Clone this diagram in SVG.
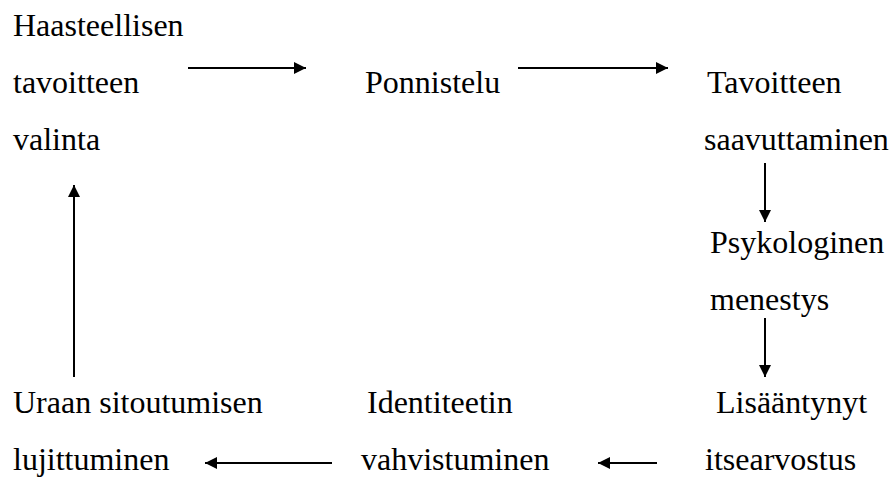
<svg xmlns="http://www.w3.org/2000/svg" width="892" height="477" viewBox="0 0 892 477">
  <style>
    .lbl { font-family: 'Liberation Serif', 'Times New Roman', Times, serif; font-size: 32px; fill: #000; }
    .conn { stroke: #000; stroke-width: 2; fill: none; }
  </style>
  <defs>
    <marker id="head" viewBox="0 0 10 10" refX="10" refY="5" markerWidth="6" markerHeight="6" markerUnits="strokeWidth" orient="auto">
      <path d="M0,0 L10,5 L0,10 Z" fill="#000"/>
    </marker>
  </defs>
  <rect width="892" height="477" fill="#fff"/>

  <g class="lbl" font-family="Liberation Serif, serif" font-size="32">
    <g id="valinta">
      <text x="13" y="36">Haasteellisen</text>
      <text x="13" y="93">tavoitteen</text>
      <text x="13" y="150">valinta</text>
    </g>
    <g id="ponnistelu">
      <text x="365" y="93">Ponnistelu</text>
    </g>
    <g id="saavuttaminen">
      <text x="707" y="93">Tavoitteen</text>
      <text x="704" y="150">saavuttaminen</text>
    </g>
    <g id="menestys">
      <text x="710" y="253">Psykologinen</text>
      <text x="710" y="310">menestys</text>
    </g>
    <g id="itsearvostus">
      <text x="716" y="413">Lisääntynyt</text>
      <text x="705" y="470">itsearvostus</text>
    </g>
    <g id="identiteetti">
      <text x="367" y="413">Identiteetin</text>
      <text x="361" y="470">vahvistuminen</text>
    </g>
    <g id="sitoutuminen">
      <text x="13" y="413">Uraan sitoutumisen</text>
      <text x="13" y="470">lujittuminen</text>
    </g>
  </g>

  <g id="connectors">
    <line class="conn" x1="188" y1="68" x2="306" y2="68" marker-end="url(#head)"/>
    <line class="conn" x1="518" y1="68" x2="668" y2="68" marker-end="url(#head)"/>
    <line class="conn" x1="765" y1="163" x2="765" y2="222" marker-end="url(#head)"/>
    <line class="conn" x1="765" y1="318" x2="765" y2="377" marker-end="url(#head)"/>
    <line class="conn" x1="657" y1="463" x2="598" y2="463" marker-end="url(#head)"/>
    <line class="conn" x1="332" y1="463" x2="205" y2="463" marker-end="url(#head)"/>
    <line class="conn" x1="74" y1="377" x2="74" y2="185" marker-end="url(#head)"/>
  </g>
</svg>
